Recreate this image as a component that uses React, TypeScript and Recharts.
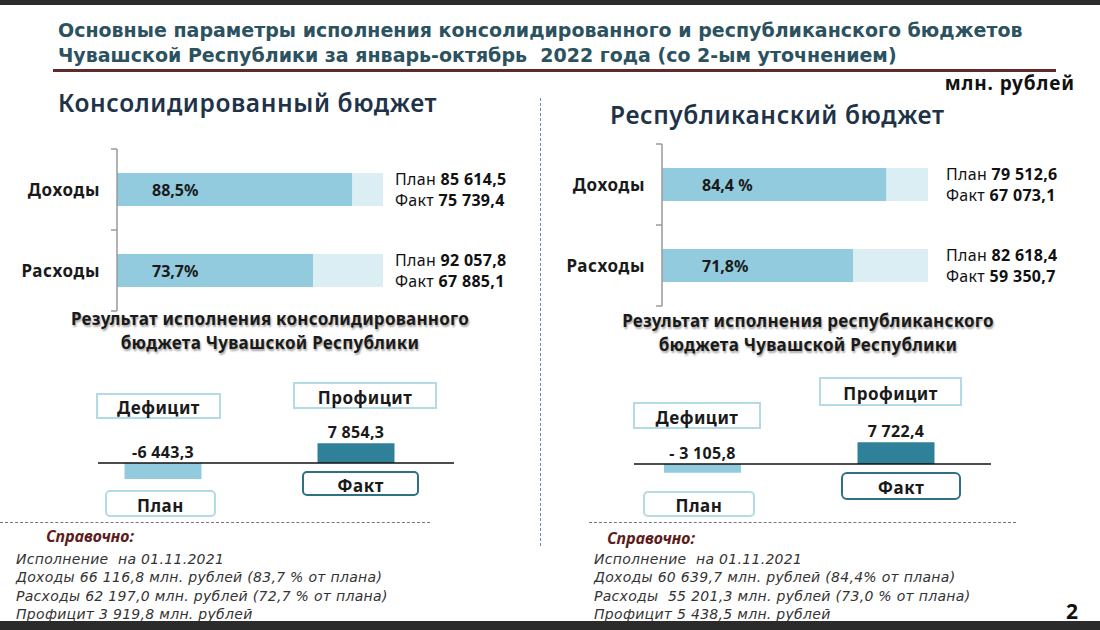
import React from 'react';
import { BarChart, Bar, XAxis, YAxis, LabelList, ReferenceLine, Cell } from 'recharts';

const FONT = "'Noto Sans', 'DejaVu Sans', sans-serif";

// ---- data ----
const categories = ['Доходы', 'Расходы'];

const consPercent = [88.5, 73.7];
const consPercentLabels = ['88,5%', '73,7%'];
const consPlan = ['85 614,5', '92 057,8'];
const consFact = ['75 739,4', '67 885,1'];

const repPercent = [84.4, 71.8];
const repPercentLabels = ['84,4 %', '71,8%'];
const repPlan = ['79 512,6', '82 618,4'];
const repFact = ['67 073,1', '59 350,7'];

const resultCategories = ['План', 'Факт'];
const consResult = [-6443.3, 7854.3];
const consResultLabels = ['-6 443,3', '7 854,3'];
const repResult = [-3105.8, 7722.4];
const repResultLabels = ['- 3 105,8', '7 722,4'];

const titleLines = [
  'Основные параметры исполнения консолидированного и республиканского бюджетов',
  'Чувашской Республики за январь-октябрь  2022 года (со 2-ым уточнением)',
];

const consNotes = [
  'Исполнение  на 01.11.2021',
  'Доходы 66 116,8 млн. рублей (83,7 % от плана)',
  'Расходы 62 197,0 млн. рублей (72,7 % от плана)',
  'Профицит 3 919,8 млн. рублей',
];
const repNotes = [
  'Исполнение  на 01.11.2021',
  'Доходы 60 639,7 млн. рублей (84,4% от плана)',
  'Расходы  55 201,3 млн. рублей (73,0 % от плана)',
  'Профицит 5 438,5 млн. рублей',
];

// ---- colours ----
const FACT_BAR = '#92cbdd';
const PLAN_BAR = '#dbeef4';
const RESULT_COLORS = ['#92cbdd', '#2f8199'];
const LIGHT_BORDER = '#b3dbe6';
const DARK_BORDER = '#2f7085';

const makeCatTick = (half: number) => (props: any) => {
  const { x, y, payload, index, visibleTicksCount } = props;
  return (
    <g>
      <line x1={x - 6} x2={x} y1={y - half} y2={y - half} stroke="#9a9a9a" strokeWidth={1.5} />
      {index === visibleTicksCount - 1 && (
        <line x1={x - 6} x2={x} y1={y + half} y2={y + half} stroke="#9a9a9a" strokeWidth={1.5} />
      )}
      <text
        x={x - 17}
        y={y + 6}
        textAnchor="end"
        fontWeight={700}
        fontSize={17}
        letterSpacing={0.6}
        fill="#1a1a1a"
      >
        {payload.value}
      </text>
    </g>
  );
};

function ExecChart(props: any) {
  const { left, top, width, height, margin, yWidth, percents, pctLabels, plans, facts, pctOffset, textOffset } = props;
  const data = categories.map((c, i) => ({ cat: c, fact: percents[i], rest: 100 - percents[i] }));
  const plotH = height - margin.top - margin.bottom;
  const half = plotH / categories.length / 2;
  const pctLabel = (p: any) => (
    <text x={p.x + pctOffset} y={p.y + p.height / 2 + 6} fontWeight={700} fontSize={16} fill="#1a1a1a">
      {pctLabels[p.index]}
    </text>
  );
  const sideLabel = (p: any) => {
    const x = p.x + p.width + textOffset;
    const cy = p.y + p.height / 2;
    return (
      <g fontSize={16} fill="#111" letterSpacing={0.3}>
        <text x={x} y={cy - 5}>
          <tspan>План </tspan>
          <tspan fontWeight={700}>{plans[p.index]}</tspan>
        </text>
        <text x={x} y={cy + 16}>
          <tspan>Факт </tspan>
          <tspan fontWeight={700}>{facts[p.index]}</tspan>
        </text>
      </g>
    );
  };
  return (
    <div style={{ position: 'absolute', left, top }}>
      <BarChart layout="vertical" width={width} height={height} data={data} margin={margin} barSize={33}>
        <XAxis type="number" domain={[0, 100]} hide />
        <YAxis
          type="category"
          dataKey="cat"
          width={yWidth}
          axisLine={{ stroke: '#9a9a9a', strokeWidth: 1.5 }}
          tickLine={false}
          tickSize={0}
          tickMargin={0}
          tick={makeCatTick(half)}
        />
        <Bar dataKey="fact" stackId="a" fill={FACT_BAR} isAnimationActive={false}>
          <LabelList dataKey="fact" content={pctLabel} />
        </Bar>
        <Bar dataKey="rest" stackId="a" fill={PLAN_BAR} isAnimationActive={false}>
          <LabelList dataKey="rest" content={sideLabel} />
        </Bar>
      </BarChart>
    </div>
  );
}

function ResultChart(props: any) {
  const { left, top, width, height, margin, values, labels, domain, padding } = props;
  const data = resultCategories.map((c, i) => ({ cat: c, v: values[i] }));
  const valueLabel = (p: any) => {
    const y = Number(p.y);
    const h = Number(p.height);
    const topY = Math.min(y, y + h);
    return (
      <text
        x={p.x + p.width / 2}
        y={topY - 5}
        textAnchor="middle"
        fontWeight={700}
        fontSize={16}
        letterSpacing={0.3}
        fill="#1a1a1a"
      >
        {labels[p.index]}
      </text>
    );
  };
  return (
    <div style={{ position: 'absolute', left, top }}>
      <BarChart width={width} height={height} data={data} margin={margin} barSize={77}>
        <XAxis dataKey="cat" hide padding={padding} />
        <YAxis hide domain={domain} />
        <Bar dataKey="v" isAnimationActive={false}>
          {data.map((d, i) => (
            <Cell key={d.cat} fill={RESULT_COLORS[i]} />
          ))}
          <LabelList dataKey="v" content={valueLabel} />
        </Bar>
        <ReferenceLine y={0} stroke="#111" strokeWidth={1.5} />
      </BarChart>
    </div>
  );
}

function Box(props: any) {
  const { left, top, width, height, text, border, radius } = props;
  return (
    <div
      style={{
        position: 'absolute',
        left,
        top,
        width,
        height,
        boxSizing: 'border-box',
        border: `2.5px solid ${border}`,
        borderRadius: radius || 0,
        background: '#fff',
        display: 'flex',
        alignItems: 'center',
        justifyContent: 'center',
        fontWeight: 700,
        fontSize: 17,
        letterSpacing: 0.5,
        color: '#1a1a1a',
        paddingTop: 3,
      }}
    >
      {text}
    </div>
  );
}

function Notes(props: any) {
  const { left, top, lines, headLeft, headTop } = props;
  return (
    <>
      <div
        style={{
          position: 'absolute',
          left: headLeft,
          top: headTop,
          fontWeight: 700,
          fontStyle: 'italic',
          fontSize: 16,
          color: '#5e1c1c',
          lineHeight: '20px',
        }}
      >
        Справочно:
      </div>
      {lines.map((l: string, i: number) => (
        <div
          key={l}
          style={{
            position: 'absolute',
            left,
            top: top + i * 18.4,
            fontFamily: "'DejaVu Sans', sans-serif",
            fontStyle: 'italic',
            fontSize: 14,
            letterSpacing: 0.3,
            color: '#333',
            lineHeight: '17px',
            whiteSpace: 'pre',
          }}
        >
          {l}
        </div>
      ))}
    </>
  );
}

export default function App() {
  return (
    <div
      style={{
        position: 'absolute',
        left: 0,
        top: 0,
        width: 1100,
        height: 630,
        background: '#fff',
        overflow: 'hidden',
        fontFamily: FONT,
      }}
    >
      <div style={{ position: 'absolute', left: 0, top: 0, width: 1100, height: 5, background: '#2b2b2b' }} />

      {titleLines.map((t, i) => (
        <div
          key={t}
          style={{
            position: 'absolute',
            left: 58,
            top: 19 + i * 25,
            fontFamily: "'DejaVu Sans', sans-serif",
            fontSize: 19,
            fontWeight: 700,
            color: '#2c5260',
            lineHeight: '23px',
            whiteSpace: 'pre',
          }}
        >
          {t}
        </div>
      ))}
      <div style={{ position: 'absolute', left: 53, top: 69, width: 1003, height: 3, background: '#5e2a2c' }} />

      <div
        style={{
          position: 'absolute',
          right: 25,
          top: 72,
          fontSize: 19,
          letterSpacing: 0.9,
          fontWeight: 700,
          color: '#111',
          lineHeight: '22px',
        }}
      >
        млн. рублей
      </div>

      <div
        style={{
          position: 'absolute',
          left: 58,
          top: 88,
          fontSize: 24.5,
          letterSpacing: 0.6,
          fontWeight: 600,
          color: '#1f3348',
          lineHeight: '30px',
        }}
      >
        Консолидированный бюджет
      </div>
      <div
        style={{
          position: 'absolute',
          left: 610,
          top: 100,
          fontSize: 24.5,
          letterSpacing: 0.6,
          fontWeight: 600,
          color: '#1f3348',
          lineHeight: '30px',
        }}
      >
        Республиканский бюджет
      </div>

      <div style={{ position: 'absolute', left: 540, top: 98, height: 448, borderLeft: '1.5px dashed #5b8cc6' }} />

      <ExecChart
        left={0}
        top={130}
        width={540}
        height={200}
        margin={{ top: 19, right: 157, bottom: 19, left: 0 }}
        yWidth={117}
        percents={consPercent}
        pctLabels={consPercentLabels}
        plans={consPlan}
        facts={consFact}
        pctOffset={35}
        textOffset={12}
      />
      <ExecChart
        left={545}
        top={125}
        width={520}
        height={200}
        margin={{ top: 19, right: 137, bottom: 19, left: 0 }}
        yWidth={117}
        percents={repPercent}
        pctLabels={repPercentLabels}
        plans={repPlan}
        facts={repFact}
        pctOffset={40}
        textOffset={18}
      />

      <div
        style={{
          position: 'absolute',
          left: 20,
          top: 307,
          width: 500,
          textAlign: 'center',
          fontSize: 17,
          letterSpacing: 0.25,
          fontWeight: 700,
          color: '#1a1a1a',
          lineHeight: '24px',
          textShadow: '1px 2px 2px rgba(0,0,0,0.35)',
        }}
      >
        <div>Результат исполнения консолидированного</div>
        <div>бюджета Чувашской Республики</div>
      </div>
      <div
        style={{
          position: 'absolute',
          left: 558,
          top: 309,
          width: 500,
          textAlign: 'center',
          fontSize: 17,
          letterSpacing: 0.25,
          fontWeight: 700,
          color: '#1a1a1a',
          lineHeight: '24px',
          textShadow: '1px 2px 2px rgba(0,0,0,0.35)',
        }}
      >
        <div>Результат исполнения республиканского</div>
        <div>бюджета Чувашской Республики</div>
      </div>

      <Box left={96} top={393} width={125} height={26} text="Дефицит" border={LIGHT_BORDER} />
      <Box left={293} top={382} width={144} height={27} text="Профицит" border={LIGHT_BORDER} />
      <Box left={302} top={471} width={117} height={25} text="Факт" border={DARK_BORDER} radius={5} />
      <Box left={105} top={490} width={111} height={27} text="План" border={LIGHT_BORDER} radius={5} />

      <Box left={633} top={402} width={128} height={27} text="Дефицит" border={LIGHT_BORDER} />
      <Box left={819} top={377} width={143} height={29} text="Профицит" border={LIGHT_BORDER} />
      <Box left={841} top={472} width={120} height={28} text="Факт" border={DARK_BORDER} radius={6} />
      <Box left={643} top={491} width={112} height={26} text="План" border={LIGHT_BORDER} radius={5} />

      <ResultChart
        left={60}
        top={400}
        width={420}
        height={110}
        margin={{ top: 13, right: 26, bottom: 7, left: 38 }}
        values={consResult}
        labels={consResultLabels}
        domain={[-16000, 20000]}
        padding={{ left: -31.5, right: 1.5 }}
      />
      <ResultChart
        left={600}
        top={400}
        width={420}
        height={120}
        margin={{ top: 19, right: 29, bottom: 11, left: 34 }}
        values={repResult}
        labels={repResultLabels}
        domain={[-16000, 16000]}
        padding={{ left: -28, right: -2 }}
      />

      <div style={{ position: 'absolute', left: 0, top: 522, width: 430, borderTop: '1.2px dashed #777' }} />
      <div style={{ position: 'absolute', left: 589, top: 522, width: 427, borderTop: '1.2px dashed #777' }} />

      <Notes left={16} top={551} lines={consNotes} headLeft={46} headTop={526} />
      <Notes left={594} top={551} lines={repNotes} headLeft={607} headTop={528} />

      <div style={{ position: 'absolute', left: 1066, top: 597, fontSize: 21, fontWeight: 700, color: '#111' }}>2</div>

      <div style={{ position: 'absolute', left: 0, top: 621, width: 1100, height: 9, background: '#2b2b2b' }} />
    </div>
  );
}
